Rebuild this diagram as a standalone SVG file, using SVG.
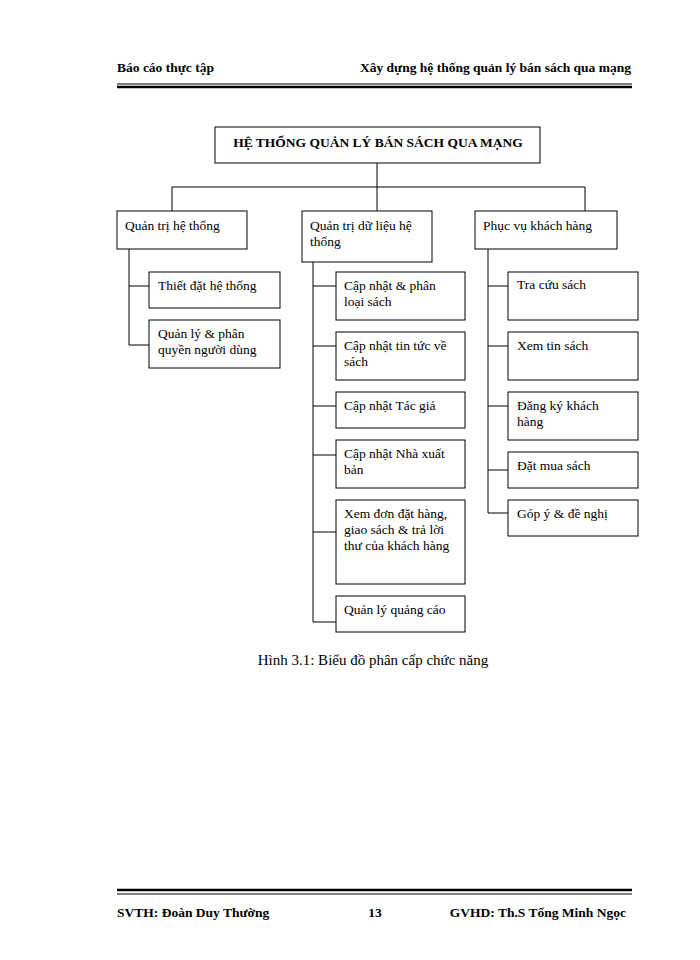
<svg xmlns="http://www.w3.org/2000/svg" width="700" height="960" viewBox="0 0 700 960">
<style>
text{font-family:"Liberation Serif",serif;font-size:13.5px;fill:#000}
.b{font-weight:bold}
.h{font-size:13.5px}
.cap{font-size:15px}
.n rect{fill:#fff;stroke:#000;stroke-width:1}
.c{fill:none;stroke:#000;stroke-width:1}
</style>
<rect width="700" height="960" fill="#fff"/>
<text class="b" x="117" y="72">Báo cáo thực tập</text>
<text class="b" x="631" y="72" text-anchor="end">Xây dựng hệ thống quản lý bán sách qua mạng</text>
<line x1="117" y1="84" x2="632" y2="84" stroke="#000" stroke-width="1"/>
<line x1="117" y1="87" x2="632" y2="87" stroke="#000" stroke-width="2.5"/>
<g id="connectors" class="c">
<path d="M377 163V187M172 187H585M172 187V211M377 187V211M585 187V211"/>
<path d="M129 249V345M129 286H149M129 345H149"/>
<path d="M313 262V622M313 286H336M313 346H336M313 406H336M313 455H336M313 532H336M313 622H336"/>
<path d="M488 249V513M488 286H508M488 346H508M488 406H508M488 470H508M488 513H508"/>
</g>
<g id="root" class="n"><rect x="215" y="127" width="325" height="36"/><text class="b" x="378" y="147" text-anchor="middle" font-size="14.5">HỆ THỐNG QUẢN LÝ BÁN SÁCH QUA MẠNG</text></g>
<g id="a" class="n"><rect x="117" y="211" width="130" height="38"/><text x="125" y="230">Quản trị hệ thống</text></g>
<g id="b" class="n"><rect x="302" y="211" width="130" height="51"/><text x="310" y="230">Quản trị dữ liệu  hệ</text><text x="310" y="246">thống</text></g>
<g id="c" class="n"><rect x="475" y="211" width="142" height="38"/><text x="483" y="230">Phục vụ khách hàng</text></g>
<g id="a1" class="n"><rect x="149" y="272" width="131" height="36"/><text x="158" y="290">Thiết  đặt hệ thống</text></g>
<g id="a2" class="n"><rect x="149" y="320" width="131" height="48"/><text x="158" y="338">Quản lý &amp; phân</text><text x="158" y="354">quyền người  dùng</text></g>
<g id="b1" class="n"><rect x="336" y="272" width="129" height="48"/><text x="344" y="290">Cập nhật  &amp; phân</text><text x="344" y="306">loại sách</text></g>
<g id="b2" class="n"><rect x="336" y="332" width="129" height="48"/><text x="344" y="350">Cập nhật tin tức về</text><text x="344" y="366">sách</text></g>
<g id="b3" class="n"><rect x="336" y="392" width="129" height="36"/><text x="344" y="410">Cập nhật  Tác giả</text></g>
<g id="b4" class="n"><rect x="336" y="440" width="129" height="48"/><text x="344" y="458">Cập nhật  Nhà xuất</text><text x="344" y="474">bản</text></g>
<g id="b5" class="n"><rect x="336" y="500" width="129" height="84"/><text x="344" y="518">Xem đơn đặt hàng,</text><text x="344" y="534">giao sách &amp; trả lời</text><text x="344" y="550">thư của khách hàng</text></g>
<g id="b6" class="n"><rect x="336" y="596" width="129" height="36"/><text x="344" y="614">Quản lý  quảng  cáo</text></g>
<g id="c1" class="n"><rect x="508" y="272" width="130" height="48"/><text x="517" y="289">Tra cứu sách</text></g>
<g id="c2" class="n"><rect x="508" y="332" width="130" height="48"/><text x="517" y="350">Xem tin sách</text></g>
<g id="c3" class="n"><rect x="508" y="392" width="130" height="48"/><text x="517" y="410">Đăng ký khách</text><text x="517" y="426">hàng</text></g>
<g id="c4" class="n"><rect x="508" y="452" width="130" height="36"/><text x="517" y="470">Đặt mua sách</text></g>
<g id="c5" class="n"><rect x="508" y="500" width="130" height="36"/><text x="517" y="518">Góp ý &amp; đề nghị</text></g>
<text class="cap" x="373" y="665" text-anchor="middle">Hình 3.1: Biểu đồ phân  cấp chức năng</text>
<line x1="117" y1="890" x2="632" y2="890" stroke="#000" stroke-width="2.5"/>
<line x1="117" y1="894" x2="632" y2="894" stroke="#000" stroke-width="1"/>
<text class="b" x="117" y="917">SVTH:  Đoàn Duy Thường</text>
<text class="b" x="375" y="917" text-anchor="middle">13</text>
<text class="b" x="626" y="917" text-anchor="end">GVHD:  Th.S Tống Minh Ngọc</text>
</svg>
